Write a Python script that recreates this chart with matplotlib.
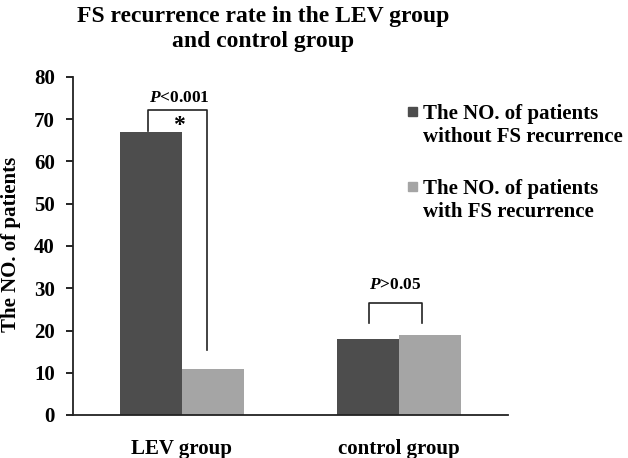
import matplotlib
matplotlib.use("Agg")
import matplotlib.pyplot as plt
from matplotlib.patches import Rectangle
import numpy as np

plt.rcParams['font.family'] = ['Liberation Serif', 'DejaVu Serif']
plt.rcParams['font.weight'] = 'bold'
plt.rcParams['mathtext.fontset'] = 'custom'
plt.rcParams['mathtext.it'] = 'Liberation Serif:bold:italic'
plt.rcParams['mathtext.rm'] = 'Liberation Serif:bold'

groups = ["LEV group", "control group"]
series_names = ["The NO. of patients\nwithout FS recurrence",
                "The NO. of patients\nwith FS recurrence"]
without_fs = [67, 18]
with_fs = [11, 19]
colors = ["#4d4d4d", "#a5a5a5"]
yticks = [0, 10, 20, 30, 40, 50, 60, 70, 80]
p_labels = ["<0.001", ">0.05"]

fig = plt.figure(figsize=(6.28, 4.58), dpi=100)
ax = fig.add_axes([73/628, 1-415/458, (508-73)/628, (415-77)/458])

x = np.arange(len(groups))
w = 0.2857
ax.bar(x - w/2, without_fs, w, color=colors[0], linewidth=0)
ax.bar(x + w/2, with_fs, w, color=colors[1], linewidth=0)

ax.set_xlim(-0.5, 1.5)
ax.set_ylim(0, 80)
ax.set_yticks(yticks)
ax.set_xticks(x)
ax.set_xticklabels(groups, fontsize=15, fontweight='bold')
ax.tick_params(axis='x', length=0, pad=17)
ax.tick_params(axis='y', length=5, width=1.2, labelsize=15, pad=8, direction='out')
for lbl in ax.get_yticklabels():
    lbl.set_fontweight('bold')
for s in ['top', 'right']:
    ax.spines[s].set_visible(False)
for s in ['left', 'bottom']:
    ax.spines[s].set_linewidth(1.3)
    ax.spines[s].set_color('#222222')

fig.text(11/628, 1-244/458, "The NO. of patients", rotation=90, ha='center', va='center',
         fontsize=15, fontweight='bold')

# significance brackets
lw = 1.2
# LEV group
l, r = -0.157, 0.116
top = 72.1
ax.plot([l, l, r, r], [67.2, top, top, 15.3], color='#222222', lw=lw)
ax.text(-0.013, 68.6, "*", ha='center', va='center', fontsize=17, fontweight='bold')
ax.text(-0.013, 75.0, "$P$" + p_labels[0], ha='center', va='center', fontsize=12.5, fontweight='bold')
# control group
l2, r2 = 0.859, 1.104
top2 = 26.4
ax.plot([l2, l2, r2, r2], [21.7, top2, top2, 21.7], color='#222222', lw=lw)
ax.text(0.98, 30.7, "$P$" + p_labels[1], ha='center', va='center', fontsize=12.5, fontweight='bold')

# title
fig.text(263/628, 1-29/458, "FS recurrence rate in the LEV group\nand control group",
         ha='center', va='center', fontsize=17, fontweight='bold', linespacing=1.25)

# legend (manual, marker aligned with first line)
leg_y = [105, 180]
for name, c, yy in zip(series_names, colors, leg_y):
    fig.patches.append(Rectangle((408/628, 1-(yy+11)/458), 9/628, 9/458,
                                 transform=fig.transFigure, color=c, figure=fig))
    fig.text(423/628, 1-(yy-1)/458, name, ha='left', va='top', fontsize=15,
             fontweight='bold', linespacing=1.2)

fig.savefig("out.png", dpi=100)
